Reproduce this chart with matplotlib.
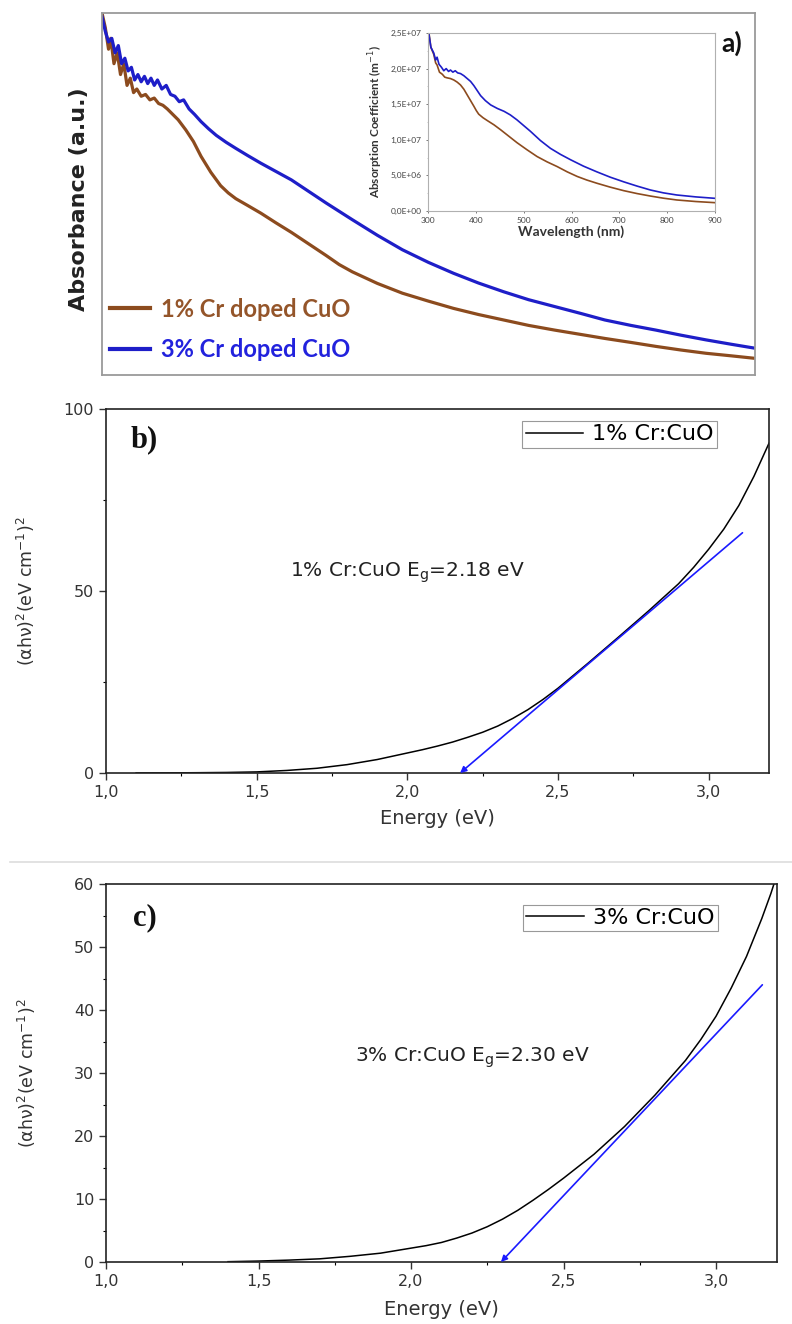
import matplotlib
matplotlib.use("Agg")
import matplotlib.pyplot as plt
from matplotlib.lines import Line2D
from matplotlib.ticker import FuncFormatter, MultipleLocator, AutoMinorLocator

# ---------------- data ----------------
# Panel a (main): absorbance (a.u.) vs wavelength (nm)
main_1_x = [300, 303, 306, 308, 311, 314, 317, 320, 323, 326, 329, 332, 336, 340, 344, 348, 352, 356,
            360, 365, 370, 377, 384, 391, 400, 409, 416, 423, 434, 446, 460, 474, 490, 506, 518, 530,
            553, 576, 600, 623, 646, 669, 692, 716, 740, 762, 786, 809, 832, 855, 878, 900]
main_1_y = [1.00, 0.96, 0.90, 0.93, 0.86, 0.89, 0.83, 0.86, 0.80, 0.82, 0.78, 0.79, 0.77, 0.775, 0.76,
            0.765, 0.75, 0.745, 0.735, 0.72, 0.705, 0.677, 0.645, 0.604, 0.56, 0.523, 0.503, 0.487,
            0.468, 0.447, 0.42, 0.394, 0.362, 0.330, 0.305, 0.285, 0.253, 0.226, 0.204, 0.184, 0.167,
            0.152, 0.137, 0.124, 0.112, 0.101, 0.090, 0.079, 0.069, 0.060, 0.053, 0.046]
main_3_x = [300, 303, 306, 309, 312, 315, 318, 321, 324, 327, 330, 333, 336, 339, 342, 345, 348, 351,
            355, 359, 363, 367, 371, 375, 380, 385, 391, 398, 405, 414, 423, 434, 446, 460, 474, 490,
            506, 518, 530, 553, 576, 600, 623, 646, 669, 692, 716, 740, 762, 786, 809, 832, 855, 878,
            900]
main_3_y = [0.99, 0.95, 0.92, 0.93, 0.89, 0.91, 0.86, 0.875, 0.84, 0.85, 0.815, 0.83, 0.81, 0.825, 0.805,
            0.82, 0.80, 0.815, 0.79, 0.80, 0.775, 0.77, 0.755, 0.76, 0.735, 0.72, 0.70, 0.68, 0.662,
            0.643, 0.626, 0.606, 0.585, 0.562, 0.539, 0.507, 0.475, 0.452, 0.429, 0.386, 0.346, 0.311,
            0.281, 0.254, 0.230, 0.208, 0.189, 0.170, 0.152, 0.137, 0.124, 0.110, 0.097, 0.085, 0.074]

# Panel a (inset): absorption coefficient (m^-1) vs wavelength (nm)
inset_1_x = [302, 306, 312, 316, 319, 324, 330, 335, 340, 347, 354, 361, 368, 375, 382, 389, 396, 401,
             406, 415, 424, 438, 452, 469, 486, 507, 528, 549, 570, 591, 612, 632, 653, 681, 709, 737,
             765, 792, 820, 860, 900]
inset_1_y = [2.5e7, 2.3e7, 2.2e7, 2.08e7, 2.05e7, 1.95e7, 1.92e7, 1.88e7, 1.87e7, 1.86e7, 1.84e7,
             1.81e7, 1.77e7, 1.71e7, 1.63e7, 1.55e7, 1.47e7, 1.41e7, 1.36e7, 1.31e7, 1.27e7, 1.21e7,
             1.14e7, 1.05e7, 9.6e6, 8.6e6, 7.65e6, 6.9e6, 6.24e6, 5.5e6, 4.85e6, 4.35e6, 3.9e6,
             3.35e6, 2.86e6, 2.45e6, 2.1e6, 1.8e6, 1.55e6, 1.33e6, 1.17e6]
inset_3_x = [302, 306, 312, 316, 319, 323, 328, 333, 338, 343, 347, 352, 357, 362, 368, 375, 382, 389,
             396, 403, 410, 420, 431, 445, 459, 472, 486, 500, 514, 535, 556, 577, 598, 625, 653, 681,
             709, 737, 765, 792, 820, 860, 900]
inset_3_y = [2.48e7, 2.3e7, 2.22e7, 2.12e7, 2.16e7, 2.06e7, 2.02e7, 1.97e7, 2.0e7, 1.96e7, 1.98e7,
             1.95e7, 1.97e7, 1.94e7, 1.93e7, 1.9e7, 1.86e7, 1.82e7, 1.76e7, 1.69e7, 1.62e7, 1.55e7,
             1.49e7, 1.44e7, 1.40e7, 1.35e7, 1.28e7, 1.2e7, 1.12e7, 9.9e6, 8.8e6, 7.95e6, 7.2e6,
             6.3e6, 5.5e6, 4.75e6, 4.1e6, 3.5e6, 2.95e6, 2.55e6, 2.25e6, 1.98e6, 1.78e6]
inset_yticks = [0, 5e6, 1e7, 1.5e7, 2e7, 2.5e7]
inset_yticklabels = ["0,0E+00", "5,0E+06", "1,0E+07", "1,5E+07", "2,0E+07", "2,5E+07"]
inset_xticks = [300, 400, 500, 600, 700, 800, 900]

# Panel b: Tauc plot 1% Cr:CuO
b_x = [1.1, 1.2, 1.3, 1.4, 1.5, 1.6, 1.7, 1.8, 1.9, 2.0, 2.05, 2.1, 2.15, 2.2, 2.25, 2.3, 2.35, 2.4,
       2.45, 2.5, 2.6, 2.7, 2.8, 2.9, 2.95, 3.0, 3.05, 3.1, 3.15, 3.2]
b_y = [0.01, 0.03, 0.08, 0.15, 0.3, 0.7, 1.3, 2.3, 3.7, 5.5, 6.4, 7.4, 8.5, 9.8, 11.2, 12.9, 15.0,
       17.4, 20.2, 23.3, 30.2, 37.3, 44.5, 52.0, 56.5, 61.5, 67.0, 73.5, 81.5, 90.6]
b_fit_x = [3.112, 2.175]
b_fit_y = [66.0, 0.0]

# Panel c: Tauc plot 3% Cr:CuO
c_x = [1.4, 1.5, 1.6, 1.7, 1.8, 1.9, 2.0, 2.05, 2.1, 2.15, 2.2, 2.25, 2.3, 2.35, 2.4, 2.45, 2.5, 2.6,
       2.7, 2.8, 2.9, 2.95, 3.0, 3.05, 3.1, 3.15, 3.18, 3.19]
c_y = [0.05, 0.15, 0.3, 0.5, 0.9, 1.4, 2.2, 2.6, 3.1, 3.8, 4.6, 5.6, 6.8, 8.2, 9.8, 11.5, 13.3, 17.1,
       21.5, 26.5, 32.0, 35.3, 39.0, 43.5, 48.5, 54.5, 58.5, 60.0]
c_fit_x = [3.152, 2.295]
c_fit_y = [44.0, 0.0]

BROWN = "#8C4B1E"
BLUE = "#1E1EC8"
FITBLUE = "#1A1AFF"

# ---------------- figure ----------------
W, H = 792, 1324
fig = plt.figure(figsize=(W / 100, H / 100), dpi=100)


def rect(l, t, r, b):
    return [l / W, 1 - b / H, (r - l) / W, (b - t) / H]


comma = FuncFormatter(lambda v, p: ("%.1f" % v).replace(".", ","))
intfmt = FuncFormatter(lambda v, p: "%d" % round(v))

# ---- panel a main ----
axa = fig.add_axes(rect(102, 13, 755, 375))
l1, = axa.plot(main_1_x, main_1_y, color=BROWN, lw=2.3)
l3, = axa.plot(main_3_x, main_3_y, color=BLUE, lw=2.3)
axa.set_xlim(300, 900)
axa.set_ylim(0, 1.0)
axa.set_xticks([])
axa.set_yticks([])
for s in axa.spines.values():
    s.set_color("#9a9a9a")
    s.set_linewidth(1.3)
axa.set_ylabel("Absorbance (a.u.)", fontsize=16, fontweight="bold", family="DejaVu Sans",
               color="#222222")
axa.yaxis.set_label_coords(-0.02, 0.485)
leg = axa.legend([l1, l3], ["1% Cr doped CuO", "3% Cr doped CuO"], loc="lower left",
                 bbox_to_anchor=(0.012, 0.038), frameon=False, borderpad=0, borderaxespad=0,
                 handlelength=1.7, handletextpad=0.45, labelspacing=0.75,
                 prop={"family": "Lato", "weight": "bold", "size": 17})
leg.get_texts()[0].set_color("#94552A")
leg.get_texts()[1].set_color("#2222DD")
for h in leg.legend_handles:
    h.set_linewidth(3)
axa.text(0.965, 0.915, "a)", transform=axa.transAxes, fontsize=19, fontweight="bold",
         family="Lato", ha="center", va="center", color="#111111")

# ---- inset ----
axi = fig.add_axes(rect(428, 33, 715, 211))
axi.plot(inset_1_x, inset_1_y, color=BROWN, lw=1.2)
axi.plot(inset_3_x, inset_3_y, color=BLUE, lw=1.2)
axi.set_xlim(300, 900)
axi.set_ylim(0, 2.5e7)
axi.set_xticks(inset_xticks)
axi.set_xticklabels([str(t) for t in inset_xticks])
axi.set_yticks(inset_yticks)
axi.set_yticklabels(inset_yticklabels)
axi.yaxis.set_minor_locator(AutoMinorLocator(2))
axi.tick_params(labelsize=6, colors="#444444", length=1.5, width=0.5, pad=3)
axi.tick_params(which="minor", length=1, width=0.4, color="#999999")
for lab in axi.get_xticklabels() + axi.get_yticklabels():
    lab.set_family("Lato")
for s in axi.spines.values():
    s.set_color("#b0b0b0")
    s.set_linewidth(0.8)
axi.set_xlabel("Wavelength (nm)", fontsize=10, fontweight="bold", family="Lato", labelpad=1,
               color="#333333")
axi.set_ylabel("Absorption Coefficient (m$^{-1}$)", fontsize=8.5, fontweight="bold", family="Lato",
               labelpad=4, color="#333333")


# ---- Tauc panels ----
def tauc(ax, x, y, fx, fy, ymax, ymaj, label, txt, txy, letter, lety, leg_anchor, ylx, xly):
    ax.plot(x, y, color="black", lw=1.1, label=label)
    ax.annotate("", xy=(fx[1], fy[1]), xytext=(fx[0], fy[0]),
                arrowprops=dict(arrowstyle="-|>", color=FITBLUE, lw=1.2, mutation_scale=9,
                                shrinkA=0, shrinkB=0))
    ax.set_xlim(1.0, 3.2)
    ax.set_ylim(0, ymax)
    ax.xaxis.set_major_locator(MultipleLocator(0.5))
    ax.xaxis.set_minor_locator(MultipleLocator(0.25))
    ax.yaxis.set_major_locator(MultipleLocator(ymaj))
    ax.yaxis.set_minor_locator(MultipleLocator(ymaj / 2))
    ax.xaxis.set_major_formatter(comma)
    ax.yaxis.set_major_formatter(intfmt)
    ax.tick_params(direction="out", length=5, width=1, labelsize=11.5, colors="#333333",
                   labelcolor="#333333")
    ax.tick_params(which="minor", direction="out", length=2.5, width=0.8)
    for s in ax.spines.values():
        s.set_linewidth(1.2)
        s.set_color("#222222")
    ax.set_xlabel("Energy (eV)", fontsize=14, color="#333333")
    ax.xaxis.set_label_coords(0.5, xly)
    ax.set_ylabel("(αhν)$^2$(eV cm$^{-1}$)$^2$", fontsize=12.5, color="#333333")
    ax.yaxis.set_label_coords(ylx, 0.5)
    ax.text(txy[0], txy[1], txt, fontsize=14.5, ha="center", va="center", color="#222222")
    ax.text(0.058, lety, letter, transform=ax.transAxes, fontsize=22, fontweight="bold",
            family="Liberation Serif", ha="center", va="center", color="#111111")
    lg = ax.legend(loc="upper right", bbox_to_anchor=leg_anchor, fontsize=16, fancybox=False,
                   edgecolor="#999999", framealpha=1, handlelength=2.6, borderpad=0.15,
                   handletextpad=0.4, borderaxespad=0)
    lg.get_frame().set_linewidth(0.8)


axb = fig.add_axes(rect(106, 409, 769, 773))
tauc(axb, b_x, b_y, b_fit_x, b_fit_y, 100, 50, "1% Cr:CuO",
     "1% Cr:CuO E$_\\mathrm{g}$=2.18 eV", (2.0, 55), "b)", 0.915, (0.9216, 0.967), -0.104, -0.1)

axc = fig.add_axes(rect(106, 884, 777, 1262))
tauc(axc, c_x, c_y, c_fit_x, c_fit_y, 60, 10, "3% Cr:CuO",
     "3% Cr:CuO E$_\\mathrm{g}$=2.30 eV", (2.2, 32.4), "c)", 0.91, (0.912, 0.945), -0.101, -0.1)

# separator line between panels
fig.add_artist(Line2D([10 / W, 1.0], [1 - 862 / H, 1 - 862 / H], color="#dddddd", lw=1.2))

fig.savefig("out.png", dpi=100)
